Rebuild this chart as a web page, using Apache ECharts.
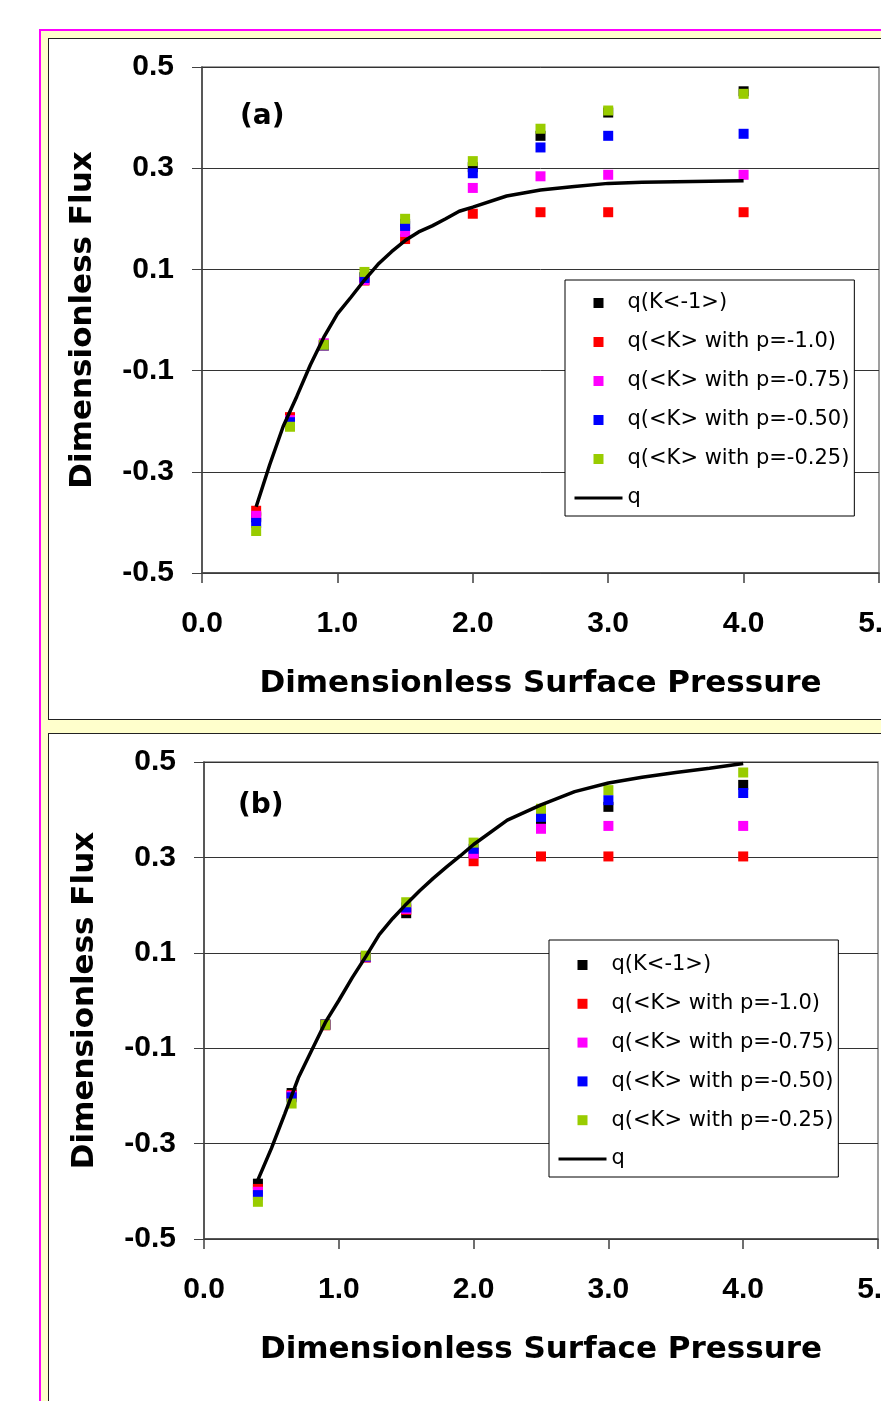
<!DOCTYPE html>
<html>
<head>
<meta charset="utf-8">
<script src="https://cdn.jsdelivr.net/npm/echarts@6/dist/echarts.min.js"></script>
<style>
  html, body { margin: 0; padding: 0; background: #fff; overflow: hidden; width: 881px; height: 1401px; }
  #outer { position: absolute; left: 39px; top: 29px; width: 900px; height: 1400px;
           border-left: 2px solid #FF00FF; border-top: 2px solid #FF00FF; background: #FFFFCC; }
  .box { position: absolute; left: 48px; width: 900px; background: #fff; border: 1.5px solid #222; }
  #chart { position: absolute; left: 0; top: 0; width: 881px; height: 1401px; }
</style>
</head>
<body>
<div id="outer"></div>
<div class="box" style="top:38px;height:680px;"></div>
<div class="box" style="top:733px;height:700px;"></div>
<div id="chart"></div>
<script>
// ---- data ----
const seriesNames = ['q(K<-1>)', 'q(<K> with p=-1.0)', 'q(<K> with p=-0.75)', 'q(<K> with p=-0.50)', 'q(<K> with p=-0.25)', 'q'];
const seriesColors = ['#000000', '#FF0000', '#FF00FF', '#0000FF', '#99CC00', '#000000'];
const xPoints = [0.4, 0.65, 0.9, 1.2, 1.5, 2.0, 2.5, 3.0, 4.0];
const xTicks = ['0.0', '1.0', '2.0', '3.0', '4.0', '5.0'];
const yTicks = ['-0.5', '-0.3', '-0.1', '0.1', '0.3', '0.5'];

// panel (a)
const aK1   = [-0.390, -0.195, -0.050, 0.085, 0.190, 0.302, 0.364, 0.410, 0.452];
const aP100 = [-0.377, -0.192, -0.050, 0.078, 0.160, 0.210, 0.213, 0.213, 0.213];
const aP075 = [-0.387, -0.198, -0.046, 0.079, 0.174, 0.261, 0.284, 0.287, 0.287];
const aP050 = [-0.401, -0.202, -0.050, 0.083, 0.186, 0.290, 0.341, 0.364, 0.368];
const aP025 = [-0.417, -0.211, -0.049, 0.095, 0.200, 0.314, 0.378, 0.414, 0.447];
const qX    = [0.4, 0.5, 0.6, 0.7, 0.8, 0.9, 1.0, 1.1, 1.2, 1.3, 1.4, 1.5, 1.6, 1.7, 1.8, 1.9, 2.0, 2.25, 2.5, 2.75, 3.0, 3.25, 3.5, 3.75, 4.0];
const aQ    = [-0.369, -0.286, -0.210, -0.151, -0.089, -0.034, 0.012, 0.045, 0.079, 0.110, 0.135, 0.157, 0.174, 0.186, 0.200, 0.215, 0.223, 0.245, 0.257, 0.264, 0.270, 0.272, 0.273, 0.274, 0.275];

// panel (b)
const bK1   = [-0.384, -0.194, -0.050, 0.091, 0.183, 0.310, 0.374, 0.406, 0.452];
const bP100 = [-0.395, -0.198, -0.052, 0.090, 0.190, 0.292, 0.302, 0.302, 0.302];
const bP075 = [-0.401, -0.200, -0.051, 0.091, 0.192, 0.308, 0.360, 0.366, 0.366];
const bP050 = [-0.408, -0.203, -0.051, 0.092, 0.195, 0.318, 0.385, 0.420, 0.435];
const bP025 = [-0.422, -0.216, -0.051, 0.094, 0.206, 0.331, 0.402, 0.441, 0.478];
const bQ    = [-0.376, -0.310, -0.237, -0.162, -0.104, -0.046, 0.000, 0.048, 0.092, 0.138, 0.172, 0.202, 0.230, 0.256, 0.280, 0.303, 0.327, 0.378, 0.410, 0.438, 0.456, 0.468, 0.478, 0.487, 0.497];

// ---- build ----
const pair = (xs, ys) => xs.map((x, i) => [x, ys[i]]);
const squareIcon = 'path://M0,0L10,0L10,10L0,10Z';

function scatterSeries(name, color, ys, idx) {
  return { type: 'scatter', name: name, xAxisIndex: idx, yAxisIndex: idx, data: pair(xPoints, ys),
           symbol: 'rect', symbolSize: 10, itemStyle: { color: color, opacity: 1 }, z: 3 };
}
function lineSeries(ys, idx) {
  return { type: 'line', name: 'q', xAxisIndex: idx, yAxisIndex: idx, data: pair(qX, ys),
           symbol: 'none', lineStyle: { color: '#000', width: 3.5 }, itemStyle: { color: '#000' }, z: 4 };
}
function makeX(idx) {
  return { type: 'value', gridIndex: idx, min: 0, max: 5, interval: 1,
    name: 'Dimensionless Surface Pressure', nameLocation: 'middle', nameGap: 95,
    nameTextStyle: { fontFamily: 'DejaVu Sans', fontWeight: 'bold', fontSize: 31, color: '#000' },
    axisLine: { show: true, onZero: false, lineStyle: { color: '#404040', width: 1.5 } },
    axisTick: { show: true, inside: false, length: 10, lineStyle: { color: '#404040', width: 1.5 } },
    axisLabel: { margin: 36, fontFamily: 'Liberation Sans', fontWeight: 'bold', fontSize: 30, color: '#000',
                 formatter: v => xTicks[Math.round(v)] },
    splitLine: { show: false } };
}
function makeY(idx) {
  return { type: 'value', gridIndex: idx, min: -0.5, max: 0.5, interval: 0.2,
    name: 'Dimensionless Flux', nameLocation: 'middle', nameGap: 104,
    nameTextStyle: { fontFamily: 'DejaVu Sans', fontWeight: 'bold', fontSize: 31, color: '#000' },
    axisLine: { show: true, onZero: false, lineStyle: { color: '#404040', width: 1.5 } },
    axisTick: { show: true, inside: false, length: 10, lineStyle: { color: '#404040', width: 1 } },
    axisLabel: { margin: 28, fontFamily: 'Liberation Sans', fontWeight: 'bold', fontSize: 30, color: '#000',
                 formatter: v => yTicks[Math.round((v + 0.5) / 0.2)] },
    splitLine: { show: true, lineStyle: { color: '#333', width: 1 } } };
}
function makeLegend(left, top, padTop, gap) {
  return { orient: 'vertical', left: left, top: top, padding: [padTop, 5, 7.5, 8], itemGap: gap,
    itemWidth: 48, itemHeight: 10, symbolKeepAspect: true,
    borderColor: '#000', borderWidth: 1, backgroundColor: '#fff', borderRadius: 0,
    textStyle: { fontFamily: 'DejaVu Sans', fontSize: 21, color: '#000', lineHeight: 21 },
    selectedMode: false,
    data: seriesNames.map((n, i) => i < 5 ? { name: n, icon: squareIcon }
      : { name: n, itemStyle: { opacity: 0, color: 'rgba(0,0,0,0)', borderWidth: 0 }, lineStyle: { width: 3, color: '#000' } }) };
}

const series = [];
[[aK1, aP100, aP075, aP050, aP025, aQ], [bK1, bP100, bP075, bP050, bP025, bQ]].forEach((set, idx) => {
  for (let i = 0; i < 5; i++) series.push(scatterSeries(seriesNames[i], seriesColors[i], set[i], idx));
  series.push(lineSeries(set[5], idx));
});

const chart = echarts.init(document.getElementById('chart'), null, { renderer: 'canvas' });
chart.setOption({
  animation: false,
  backgroundColor: 'transparent',
  grid: [
    { left: 202, top: 67, width: 677, height: 506, outerBoundsMode: 'none', containLabel: false, show: true, borderColor: '#808080', borderWidth: 1.5, backgroundColor: 'transparent' },
    { left: 204, top: 762, width: 674, height: 477, outerBoundsMode: 'none', containLabel: false, show: true, borderColor: '#808080', borderWidth: 1.5, backgroundColor: 'transparent' }
  ],
  xAxis: [makeX(0), makeX(1)],
  yAxis: [makeY(0), makeY(1)],
  legend: [makeLegend(565, 280, 12.5, 18), makeLegend(549, 940, 14.5, 17.8)],
  graphic: [
    { type: 'text', left: 240, top: 103, style: { text: '(a)', font: 'bold 28px "DejaVu Sans"', fill: '#000' } },
    { type: 'text', left: 238, top: 792, style: { text: '(b)', font: 'bold 28px "DejaVu Sans"', fill: '#000' } }
  ],
  series: series
});
</script>
</body>
</html>
